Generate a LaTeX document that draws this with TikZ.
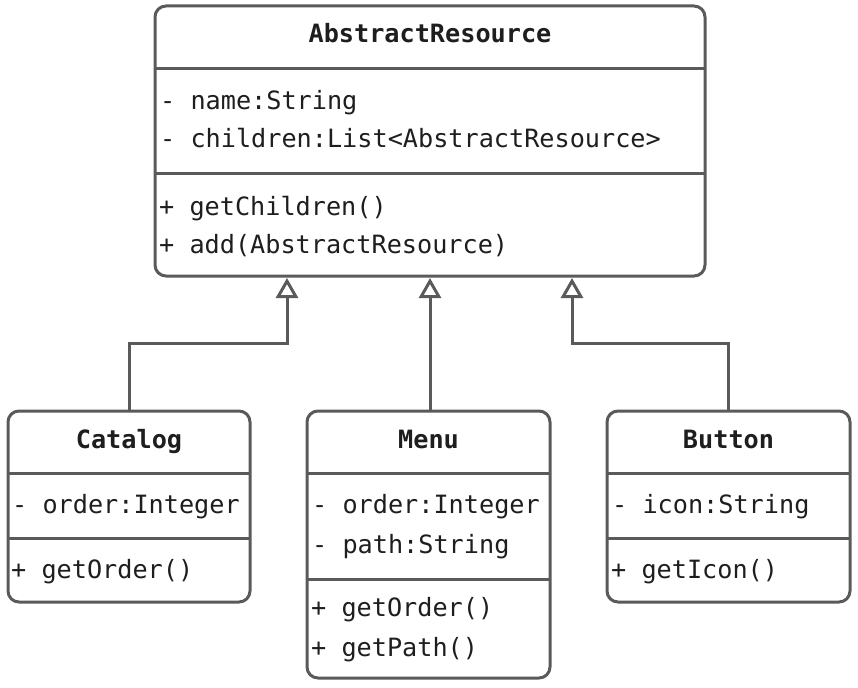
\documentclass[tikz,border=0pt]{standalone}
\usepackage{fontspec}
\setmonofont{DejaVu Sans Mono}
\usetikzlibrary{arrows.meta}
\definecolor{ln}{HTML}{5A5A5A}
\definecolor{tx}{HTML}{1E1E1E}
\tikzset{
  classbox/.style={draw=ln, line width=3pt, rounded corners=11pt, fill=white, inner sep=0pt},
  divider/.style={draw=ln, line width=3pt},
  txt/.style={anchor=base west, inner sep=0pt, text=tx, font=\ttfamily\fontsize{25.2}{30}\selectfont},
  ttl/.style={anchor=base, inner sep=0pt, text=tx, font=\ttfamily\bfseries\fontsize{25.2}{30}\selectfont},
  inh/.style={draw=ln, line width=3pt, -{Triangle[open, width=22pt, length=20pt]}}
}
\begin{document}
\begin{tikzpicture}[x=1pt, y=-1pt]
\useasboundingbox (0,0) rectangle (858,687);
% AbstractResource
\node[classbox, minimum width=550pt, minimum height=270pt] (ar) at (430,141) {};
\draw[divider] (155,69) -- (705,69);
\draw[divider] (155,173) -- (705,173);
\node[ttl] (art) at (430,43) {AbstractResource};
\node[txt] (ara1) at (160,110) {- name:String};
\node[txt] (ara2) at (160,148) {- children:List<AbstractResource>};
\node[txt] (arm1) at (159,215) {+ getChildren()};
\node[txt] (arm2) at (159,253) {+ add(AbstractResource)};
% Catalog
\node[classbox, minimum width=242pt, minimum height=191pt] (cat) at (129,506.5) {};
\draw[divider] (8,473) -- (250,473);
\draw[divider] (8,538) -- (250,538);
\node[ttl] (catt) at (129,448) {Catalog};
\node[txt] (cata1) at (12,513) {- order:Integer};
\node[txt] (catm1) at (11,578) {+ getOrder()};
% Menu
\node[classbox, minimum width=243pt, minimum height=267pt] (menu) at (428.5,544.5) {};
\draw[divider] (307,473) -- (550,473);
\draw[divider] (307,579) -- (550,579);
\node[ttl] (menut) at (428.5,448) {Menu};
\node[txt] (menua1) at (312,513) {- order:Integer};
\node[txt] (menua2) at (312,553) {- path:String};
\node[txt] (menum1) at (311,616) {+ getOrder()};
\node[txt] (menum2) at (311,656) {+ getPath()};
% Button
\node[classbox, minimum width=243pt, minimum height=191pt] (btn) at (728.5,506.5) {};
\draw[divider] (607,473) -- (850,473);
\draw[divider] (607,538) -- (850,538);
\node[ttl] (btnt) at (728.5,448) {Button};
\node[txt] (btna1) at (612,513) {- icon:String};
\node[txt] (btnm1) at (611,578) {+ getIcon()};
% connectors
\coordinate (t1) at (287,278);
\coordinate (t2) at (430,278);
\coordinate (t3) at (572,278);
\draw[inh] (cat.north) -- (cat.north |- 0,343) -| (t1);
\draw[inh] (menu.north -| t2) -- (t2);
\draw[inh] (btn.north) -- (btn.north |- 0,343) -| (t3);
\end{tikzpicture}
\end{document}
